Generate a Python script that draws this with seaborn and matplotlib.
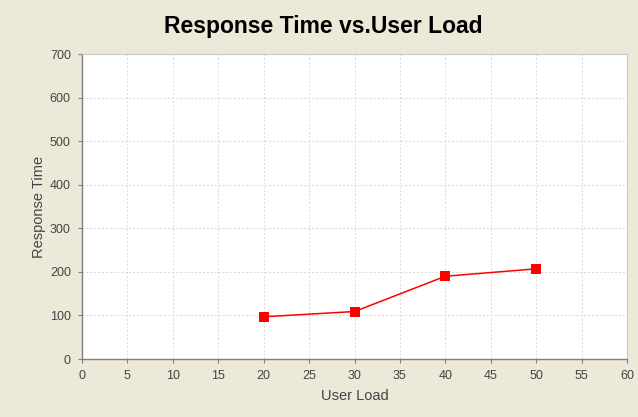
import matplotlib
matplotlib.use("Agg")
import matplotlib.pyplot as plt
import seaborn as sns
import pandas as pd

user_load = [20, 30, 40, 50]
response_time = [97, 109, 190, 207]
x_ticks = list(range(0, 61, 5))
y_ticks = list(range(0, 701, 100))

sns.set_theme(style="whitegrid")
plt.rcParams["font.family"] = ["Liberation Sans", "DejaVu Sans"]

df = pd.DataFrame({"User Load": user_load, "Response Time": response_time})

fig = plt.figure(figsize=(6.38, 4.17), dpi=100)
fig.patch.set_facecolor("#ECE9D8")
ax = fig.add_axes([0.1285, 0.139, 0.8543, 0.7315])
ax.set_facecolor("white")

sns.lineplot(data=df, x="User Load", y="Response Time", ax=ax,
             color="#FF0000", linewidth=1.1, marker="s", markersize=6.5,
             markeredgewidth=0, markerfacecolor="#FF0000")

ax.set_xlim(0, 60)
ax.set_ylim(0, 700)
ax.set_xticks(x_ticks)
ax.set_yticks(y_ticks)
ax.grid(True, color="#D8D8D8", linestyle=(0, (2, 2)), linewidth=0.7)

for side in ["top", "right"]:
    ax.spines[side].set_color("#C8C8C8")
    ax.spines[side].set_linewidth(0.8)
for side in ["left", "bottom"]:
    ax.spines[side].set_color("#808080")
    ax.spines[side].set_linewidth(1.0)

ax.tick_params(axis="both", which="major", direction="out", length=3, width=0.8,
               color="#808080", labelsize=9, labelcolor="#444444", pad=5,
               bottom=True, left=True)

ax.set_xlabel("User Load", fontsize=10.5, color="#444444", labelpad=5)
ax.set_ylabel("Response Time", fontsize=10.5, color="#444444", labelpad=3)

fig.suptitle("Response Time vs.User Load", fontsize=16.5, fontweight="bold",
             color="black", x=0.507, y=0.963)

fig.savefig("out.png", dpi=100, facecolor=fig.get_facecolor())
